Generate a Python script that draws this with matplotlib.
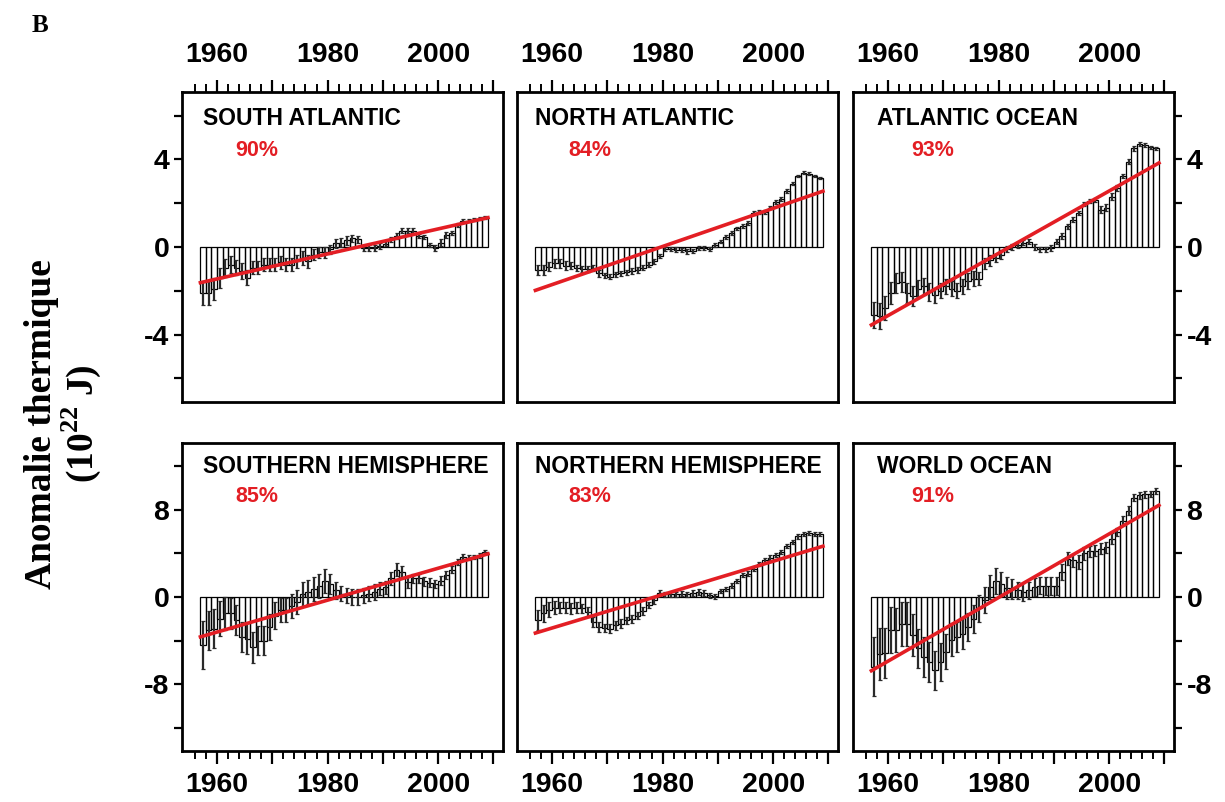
import matplotlib
matplotlib.use('Agg')
import matplotlib.pyplot as plt
from matplotlib.ticker import FixedLocator, FixedFormatter
import numpy as np

plt.rcParams['axes.unicode_minus'] = False
plt.rcParams['font.family'] = ['Liberation Sans', 'DejaVu Sans']
plt.rcParams['mathtext.fontset'] = 'custom'
plt.rcParams['mathtext.bf'] = 'Liberation Serif:bold'
plt.rcParams['mathtext.rm'] = 'Liberation Serif:bold'

# pentadal values, bar i covers [year, year+1]
years = np.arange(1957, 2009)

sa_vals = [-2.1, -2.1, -1.9, -1.4, -0.95, -0.8, -0.95, -1.1, -1.4, -0.95,
           -0.95, -0.8, -0.8, -0.8, -0.7, -0.8, -0.8, -0.65, -0.5, -0.65,
           -0.35, -0.25, -0.25, -0.1, 0.17, 0.2, 0.3, 0.4, 0.35, -0.05,
           -0.05, -0.05, 0.05, 0.15, 0.35, 0.5, 0.75, 0.75, 0.75, 0.5,
           0.45, 0.1, -0.05, 0.2, 0.55, 0.65, 1.0, 1.2, 1.2, 1.25,
           1.3, 1.35]
sa_err = [0.55, 0.55, 0.5, 0.45, 0.4, 0.4, 0.35, 0.35, 0.35, 0.3,
          0.3, 0.3, 0.3, 0.3, 0.3, 0.3, 0.3, 0.3, 0.3, 0.3,
          0.25, 0.25, 0.25, 0.2, 0.2, 0.2, 0.2, 0.15, 0.15, 0.12,
          0.12, 0.12, 0.12, 0.12, 0.12, 0.12, 0.1, 0.1, 0.1, 0.1,
          0.1, 0.1, 0.15, 0.15, 0.15, 0.1, 0.1, 0.08, 0.08, 0.08,
          0.08, 0.08]
sa_trend = [-1.63, 1.34]

na_vals = [-1.05, -1.05, -0.9, -0.75, -0.75, -0.85, -0.85, -0.95, -1.0, -1.0,
           -0.95, -1.2, -1.3, -1.35, -1.25, -1.2, -1.15, -1.1, -1.05, -0.95,
           -0.8, -0.65, -0.4, -0.1, -0.08, -0.12, -0.15, -0.2, -0.17, -0.05,
           -0.05, -0.08, 0.1, 0.25, 0.45, 0.65, 0.85, 0.95, 1.1, 1.55,
           1.6, 1.6, 1.8, 2.05, 2.2, 2.55, 2.9, 3.25, 3.4, 3.35,
           3.25, 3.15]
na_err = [0.25, 0.25, 0.2, 0.2, 0.2, 0.2, 0.15, 0.15, 0.15, 0.15,
          0.15, 0.15, 0.12, 0.12, 0.12, 0.12, 0.12, 0.12, 0.12, 0.12,
          0.12, 0.12, 0.1, 0.1, 0.1, 0.1, 0.1, 0.1, 0.1, 0.1,
          0.08, 0.08, 0.08, 0.08, 0.08, 0.08, 0.08, 0.08, 0.08, 0.08,
          0.08, 0.08, 0.08, 0.08, 0.08, 0.08, 0.08, 0.06, 0.06, 0.06,
          0.06, 0.06]
na_trend = [-1.98, 2.55]

ao_vals = [-3.1, -3.15, -2.8, -2.1, -1.65, -1.6, -2.1, -2.25, -1.9, -1.8,
           -2.05, -2.2, -2.0, -1.8, -1.9, -2.0, -1.8, -1.55, -1.45, -1.45,
           -0.75, -0.6, -0.5, -0.35, -0.1, 0.0, 0.1, 0.2, 0.25, 0.0,
           -0.1, -0.1, -0.05, 0.25, 0.5, 0.95, 1.25, 1.55, 1.95, 2.1,
           2.15, 1.7, 1.8, 2.3, 2.7, 3.25, 3.9, 4.5, 4.7, 4.65,
           4.55, 4.5]
ao_err = [0.6, 0.6, 0.55, 0.5, 0.45, 0.45, 0.45, 0.45, 0.4, 0.4,
          0.4, 0.35, 0.35, 0.35, 0.35, 0.35, 0.35, 0.35, 0.35, 0.3,
          0.25, 0.25, 0.2, 0.2, 0.15, 0.15, 0.15, 0.12, 0.12, 0.12,
          0.12, 0.12, 0.12, 0.12, 0.12, 0.12, 0.1, 0.1, 0.1, 0.1,
          0.1, 0.15, 0.15, 0.15, 0.12, 0.1, 0.1, 0.1, 0.08, 0.08,
          0.08, 0.08]
ao_trend = [-3.56, 3.84]

sh_vals = [-4.4, -3.05, -2.9, -2.0, -1.5, -1.5, -2.1, -3.65, -3.8, -4.6,
           -4.0, -4.0, -2.75, -1.7, -1.2, -1.15, -0.85, -0.45, 0.3, 0.45,
           0.75, 1.05, 1.5, 1.2, 0.6, 0.3, 0.15, 0.0, 0.0, 0.15,
           0.3, 0.45, 0.75, 0.9, 1.7, 2.5, 2.3, 1.35, 1.7, 1.7,
           1.45, 1.3, 1.2, 1.5, 2.0, 2.5, 3.2, 3.7, 3.6, 3.65,
           3.8, 4.1]
sh_err = [2.2, 1.8, 1.8, 1.6, 1.5, 1.4, 1.4, 1.4, 1.4, 1.4,
          1.3, 1.3, 1.2, 1.2, 1.1, 1.1, 1.1, 1.1, 1.1, 1.1,
          1.1, 1.1, 1.1, 0.9, 0.8, 0.7, 0.7, 0.7, 0.7, 0.7,
          0.7, 0.7, 0.6, 0.6, 0.6, 0.6, 0.5, 0.5, 0.4, 0.4,
          0.4, 0.4, 0.4, 0.4, 0.35, 0.3, 0.3, 0.25, 0.2, 0.2,
          0.2, 0.2]
sh_trend = [-3.65, 3.95]

nh_vals = [-2.1, -1.5, -1.15, -1.0, -1.0, -1.0, -1.05, -1.0, -1.05, -1.4,
           -2.3, -2.75, -2.85, -2.9, -2.6, -2.45, -2.15, -2.0, -1.7, -1.3,
           -0.75, -0.3, 0.35, 0.25, 0.25, 0.25, 0.3, 0.25, 0.35, 0.45,
           0.35, 0.15, 0.05, 0.55, 0.75, 1.05, 1.45, 2.0, 2.15, 2.6,
           3.05, 3.35, 3.6, 3.85, 4.1, 4.65, 5.05, 5.55, 5.75, 5.85,
           5.75, 5.75]
nh_err = [0.9, 0.8, 0.7, 0.6, 0.5, 0.5, 0.5, 0.5, 0.45, 0.45,
          0.45, 0.45, 0.4, 0.4, 0.4, 0.4, 0.35, 0.35, 0.35, 0.35,
          0.3, 0.3, 0.3, 0.25, 0.25, 0.25, 0.25, 0.25, 0.25, 0.25,
          0.25, 0.2, 0.2, 0.2, 0.2, 0.2, 0.2, 0.2, 0.2, 0.2,
          0.2, 0.2, 0.2, 0.2, 0.2, 0.2, 0.2, 0.2, 0.2, 0.2,
          0.2, 0.2]
nh_trend = [-3.3, 4.65]

wo_vals = [-6.4, -5.2, -5.1, -3.0, -3.0, -2.45, -2.45, -3.5, -4.7, -5.5,
           -5.95, -6.7, -5.95, -5.0, -3.9, -3.65, -3.35, -2.75, -2.0, -1.05,
           -0.3, 0.9, 1.5, 1.2, 0.85, 0.75, 0.6, 0.45, 0.6, 0.9,
           1.05, 1.0, 1.0, 1.0, 2.3, 3.5, 3.35, 3.2, 4.0, 4.2,
           4.25, 4.4, 4.55, 5.35, 5.95, 7.0, 7.9, 9.1, 9.3, 9.4,
           9.45, 9.7]
wo_err = [2.7, 2.4, 2.3, 2.1, 2.0, 2.0, 2.0, 1.9, 1.8, 1.8,
          1.8, 1.8, 1.7, 1.6, 1.5, 1.4, 1.4, 1.3, 1.3, 1.2,
          1.2, 1.1, 1.2, 1.1, 1.0, 0.9, 0.8, 0.8, 0.8, 0.8,
          0.8, 0.8, 0.8, 0.8, 0.7, 0.6, 0.6, 0.6, 0.6, 0.5,
          0.5, 0.5, 0.5, 0.5, 0.4, 0.4, 0.4, 0.3, 0.3, 0.3,
          0.3, 0.3]
wo_trend = [-6.75, 8.4]

trend_years = [1957, 2009]

panels = [
    ('SOUTH ATLANTIC', '90%', sa_vals, sa_err, sa_trend),
    ('NORTH ATLANTIC', '84%', na_vals, na_err, na_trend),
    ('ATLANTIC OCEAN', '93%', ao_vals, ao_err, ao_trend),
    ('SOUTHERN HEMISPHERE', '85%', sh_vals, sh_err, sh_trend),
    ('NORTHERN HEMISPHERE', '83%', nh_vals, nh_err, nh_trend),
    ('WORLD OCEAN', '91%', wo_vals, wo_err, wo_trend),
]

W, H = 1225, 802
fig = plt.figure(figsize=(W / 100, H / 100), dpi=100)

col_left = [182, 517, 853]
col_w = 321
row_top = [92, 443]
row_h = [310, 308]
# title / percent offsets per column (axes fraction)
txt_x = [(0.066, 0.165), (0.056, 0.16), (0.076, 0.183)]
txt_y = [(0.952, 0.845), (0.962, 0.862)]

red = '#e31e24'

for k, (name, pct, vals, err, trend) in enumerate(panels):
    r, c = divmod(k, 3)
    ax = fig.add_axes([col_left[c] / W, 1 - (row_top[r] + row_h[r]) / H,
                       col_w / W, row_h[r] / H])
    ax.bar(years, vals, width=1.0, align='edge', fill=False,
           edgecolor='black', linewidth=0.9, zorder=2)
    ax.errorbar(years + 0.5, vals, yerr=err, fmt='none', ecolor='#2a2a2a',
                elinewidth=1.6, capsize=1.2, capthick=0.9, zorder=3)
    ax.plot(trend_years, trend, color=red, lw=2.6, zorder=4)

    ax.set_xlim(1953.67, 2011.72)
    if r == 0:
        ax.set_ylim(-7.08, 7.08)
        yt = [-6, -4, -2, 0, 2, 4, 6]
        yl = ['', '-4', '', '0', '', '4', '']
    else:
        ax.set_ylim(-14.1, 14.1)
        yt = [-12, -8, -4, 0, 4, 8, 12]
        yl = ['', '-8', '', '0', '', '8', '']
    ax.yaxis.set_major_locator(FixedLocator(yt))
    ax.yaxis.set_major_formatter(FixedFormatter(yl))

    xt = [1960, 1970, 1980, 1990, 2000, 2010]
    xl = ['1960', '', '1980', '', '2000', '']
    ax.xaxis.set_major_locator(FixedLocator(xt))
    ax.xaxis.set_major_formatter(FixedFormatter(xl))
    ax.xaxis.set_minor_locator(FixedLocator([y for y in range(1956, 2011, 2) if y % 10 != 0]))

    ax.tick_params(axis='x', which='major', length=9, width=1.6, labelsize=20.5,
                   pad=(8 if r == 0 else 6), top=(r == 0), bottom=(r == 1),
                   labeltop=(r == 0), labelbottom=(r == 1), direction='out')
    ax.tick_params(axis='x', which='minor', length=5.5, width=1.4,
                   top=(r == 0), bottom=(r == 1), direction='out')
    ax.tick_params(axis='y', which='major', length=6, width=1.6, labelsize=20.5,
                   pad=3, left=(c == 0), right=(c == 2),
                   labelleft=(c == 0), labelright=(c == 2), direction='out')
    for lab in ax.get_xticklabels() + ax.get_yticklabels():
        lab.set_fontweight('bold')
    for sp in ax.spines.values():
        sp.set_linewidth(2.0)

    ax.text(txt_x[c][0], txt_y[r][0], name, transform=ax.transAxes,
            fontsize=16.5, fontweight='bold', va='top', ha='left')
    ax.text(txt_x[c][1], txt_y[r][1], pct, transform=ax.transAxes,
            fontsize=15.5, fontweight='bold', color=red, va='top', ha='left')

fig.text(40 / W, 1 - 25 / H, 'B', fontsize=18, fontweight='bold',
         family='Liberation Serif', ha='center', va='center')
fig.text(42 / W, 1 - 424 / H, 'Anomalie thermique', rotation=90,
         fontsize=27, fontweight='bold', family='Liberation Serif',
         ha='center', va='center')
fig.text(81 / W, 1 - 424 / H, r'(10$^{\mathbf{22}}$ J)', rotation=90,
         fontsize=27, fontweight='bold', family='Liberation Serif',
         ha='center', va='center')

fig.savefig('out.png', dpi=100, facecolor='white')
